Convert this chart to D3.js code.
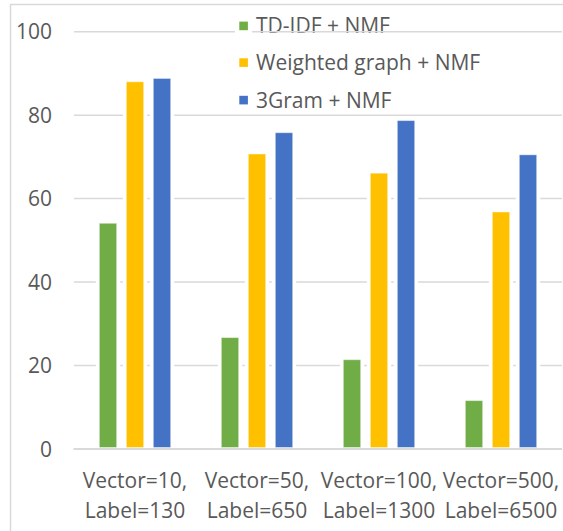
<!DOCTYPE html>
<html>
<head>
<meta charset="utf-8">
<script src="https://cdn.jsdelivr.net/npm/d3@7/dist/d3.min.js"></script>
<style>
  html, body { margin: 0; padding: 0; background: #fff; }
  svg { display: block; }
  text { font-family: "Open Sans", sans-serif; fill: #595959; }
</style>
</head>
<body>
<svg id="chart" width="563" height="531"></svg>
<script>
// Categories (two-line labels) and series
const categories = [
  ["Vector=10,", "Label=130"],
  ["Vector=50,", "Label=650"],
  ["Vector=100,", "Label=1300"],
  ["Vector=500,", "Label=6500"]
];
const seriesNames = ["TD-IDF + NMF", "Weighted graph + NMF", "3Gram + NMF"];
const tdidf    = [54.1, 26.7, 21.4, 11.6];
const weighted = [88.0, 70.7, 66.1, 56.8];
const trigram  = [88.8, 75.8, 78.7, 70.5];
const seriesColors = ["#70AD47", "#FFC000", "#4472C4"];
const yTicks = [0, 20, 40, 60, 80, 100];

const seriesValues = [tdidf, weighted, trigram];
const catKeys = categories.map(c => c.join(" "));

const svg = d3.select("#chart");
const W = 563, H = 531;
const plot = { left: 74, right: 562, top: 31.7, bottom: 449 };

// Outer chart border
svg.append("rect")
  .attr("x", 10.5).attr("y", 4.5)
  .attr("width", 700).attr("height", 700)
  .attr("fill", "none").attr("stroke", "#D9D9D9").attr("stroke-width", 1.5);

const x0 = d3.scaleBand().domain(catKeys).range([plot.left, plot.right]).padding(0);
const groupWidth = 81;
const x1 = d3.scaleBand().domain(seriesNames).range([0, groupWidth])
  .paddingInner(0.356).paddingOuter(0.178);
const y = d3.scaleLinear().domain([0, 100]).range([plot.bottom, plot.top]);

// Legend text (drawn before gridlines so the top gridline runs across it)
const legend = svg.append("g").attr("class", "legend");
const legendRowY = [25.8, 62.5, 100];
seriesNames.forEach((name, i) => {
  legend.append("text")
    .attr("x", 256).attr("y", legendRowY[i])
    .attr("dy", "0.36em")
    .attr("font-size", 21)
    .text(name);
});

// Gridlines
const grid = svg.append("g");
yTicks.filter(t => t > 0).forEach(t => {
  grid.append("line")
    .attr("x1", plot.left).attr("x2", plot.right)
    .attr("y1", y(t)).attr("y2", y(t))
    .attr("stroke", "#D9D9D9").attr("stroke-width", 1.5);
});
// Axis baseline
svg.append("line")
  .attr("x1", plot.left - 0.5).attr("x2", plot.right)
  .attr("y1", y(0)).attr("y2", y(0))
  .attr("stroke", "#D9D9D9").attr("stroke-width", 2);

// Legend markers on a white backing
svg.append("rect").attr("x", 235).attr("y", 10).attr("width", 17).attr("height", 100).attr("fill", "#fff");
seriesNames.forEach((name, i) => {
  svg.append("rect")
    .attr("x", 239.3).attr("y", legendRowY[i] - 4.2)
    .attr("width", 8.6).attr("height", 8.6)
    .attr("fill", seriesColors[i]);
});

// Bars
const groups = svg.append("g").selectAll("g")
  .data(catKeys)
  .join("g")
  .attr("transform", d => `translate(${x0(d) + x0.bandwidth() / 2 - groupWidth / 2},0)`);

seriesNames.forEach((name, si) => {
  // white halo that interrupts gridlines around each bar
  groups.append("rect")
    .attr("x", x1(name) - 3.5)
    .attr("y", (d, ci) => y(seriesValues[si][ci]) - 3.5)
    .attr("width", x1.bandwidth() + 7)
    .attr("height", (d, ci) => y(0) - y(seriesValues[si][ci]) + 2.5)
    .attr("fill", "#fff");
});
seriesNames.forEach((name, si) => {
  groups.append("rect")
    .attr("x", x1(name))
    .attr("y", (d, ci) => y(seriesValues[si][ci]))
    .attr("width", x1.bandwidth())
    .attr("height", (d, ci) => y(0) - y(seriesValues[si][ci]) - 1.5)
    .attr("fill", seriesColors[si])
    .attr("stroke", "rgba(255,255,255,0.45)")
    .attr("stroke-width", 1);
});

// Y tick labels
svg.append("g").selectAll("text")
  .data(yTicks)
  .join("text")
  .attr("x", 52).attr("y", d => y(d))
  .attr("dy", "0.36em")
  .attr("text-anchor", "end")
  .attr("font-size", 21)
  .text(d => d);

// X category labels
const xl = svg.append("g").selectAll("text")
  .data(categories)
  .join("text")
  .attr("text-anchor", "middle")
  .attr("font-size", 21);
xl.append("tspan")
  .attr("x", (d, i) => x0(catKeys[i]) + x0.bandwidth() / 2)
  .attr("y", 487.7)
  .text(d => d[0]);
xl.append("tspan")
  .attr("x", (d, i) => x0(catKeys[i]) + x0.bandwidth() / 2)
  .attr("y", 517.7)
  .text(d => d[1]);
</script>
</body>
</html>
